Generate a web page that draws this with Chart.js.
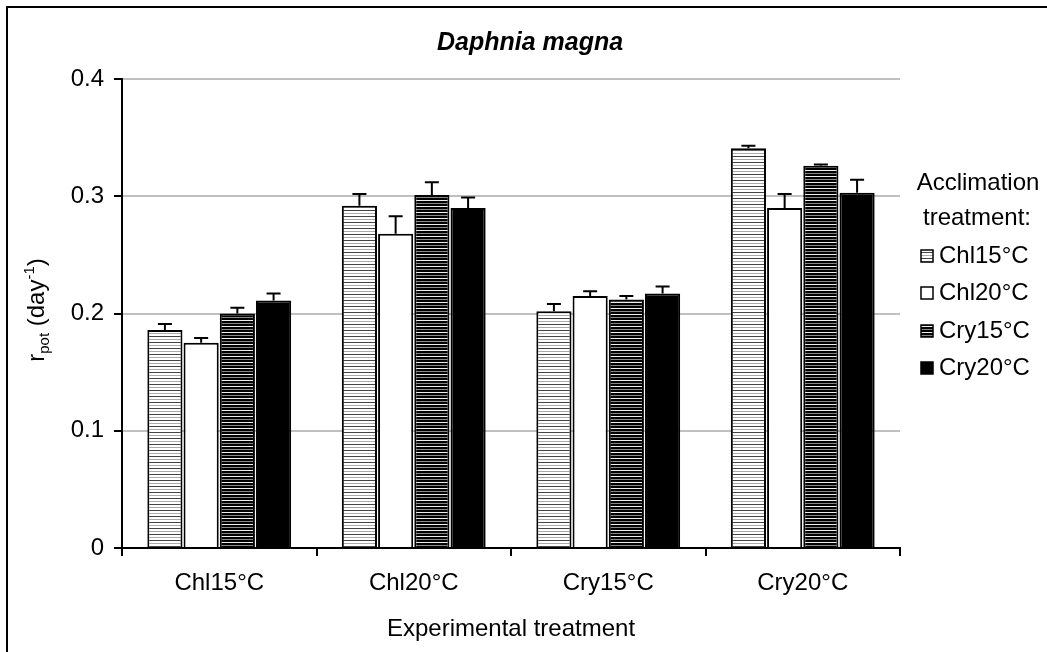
<!DOCTYPE html>
<html>
<head>
<meta charset="utf-8">
<script src="https://cdn.jsdelivr.net/npm/chart.js@4.4.0/dist/chart.umd.min.js"></script>
<style>
  html, body { margin: 0; padding: 0; background: #fff; }
</style>
</head>
<body>
<canvas id="myChart" width="1047" height="652"></canvas>
<script>
// data
var categories = ['Chl15°C', 'Chl20°C', 'Cry15°C', 'Cry20°C'];
var seriesNames = ['Chl15°C', 'Chl20°C', 'Cry15°C', 'Cry20°C'];
var chl15Values = [0.186, 0.292, 0.202, 0.341];
var chl15Errors = [0.005, 0.010, 0.006, 0.002];
var chl20Values = [0.175, 0.268, 0.215, 0.290];
var chl20Errors = [0.004, 0.015, 0.004, 0.012];
var cry15Values = [0.200, 0.301, 0.212, 0.326];
var cry15Errors = [0.005, 0.011, 0.003, 0.001];
var cry20Values = [0.211, 0.290, 0.217, 0.303];
var cry20Errors = [0.006, 0.009, 0.006, 0.011];
var yTicks = [0, 0.1, 0.2, 0.3, 0.4];

var FONT = '"Liberation Sans", Arial, sans-serif';
Chart.defaults.font.family = FONT;
Chart.defaults.color = '#000';

function stripes(bg, rows) {
  var c = document.createElement('canvas');
  c.width = 4;
  c.height = rows.length;
  var g = c.getContext('2d');
  g.fillStyle = bg;
  g.fillRect(0, 0, 4, rows.length);
  for (var i = 0; i < rows.length; i++) {
    if (rows[i]) {
      g.fillStyle = rows[i];
      g.fillRect(0, i, 4, 1);
    }
  }
  return g.createPattern(c, 'repeat');
}

var lightStripes = stripes('#fff', ['#444', null, null, '#aaa', null, null]);
var darkStripes = stripes('#000', [null, null, '#eee', null, null, '#888']);
var fills = [lightStripes, '#fff', darkStripes, '#000'];
var allValues = [chl15Values, chl20Values, cry15Values, cry20Values];
var allErrors = [chl15Errors, chl20Errors, cry15Errors, cry20Errors];

var datasets = [];
for (var s = 0; s < seriesNames.length; s++) {
  datasets.push({
    label: seriesNames[s],
    data: allValues[s],
    errors: allErrors[s],
    backgroundColor: fills[s],
    borderColor: '#000',
    borderWidth: 2,
    borderSkipped: 'bottom',
    categoryPercentage: 0.745,
    barPercentage: 0.97
  });
}

// error bars, border, title, y label, legend
var extras = {
  id: 'extras',
  afterDatasetsDraw: function (chart) {
    var ctx = chart.ctx;
    var y = chart.scales.y;
    ctx.save();
    ctx.strokeStyle = '#000';
    ctx.lineWidth = 2;
    chart.data.datasets.forEach(function (ds, di) {
      var meta = chart.getDatasetMeta(di);
      meta.data.forEach(function (bar, i) {
        var top = y.getPixelForValue(ds.data[i] + ds.errors[i]);
        var base = y.getPixelForValue(ds.data[i]);
        ctx.beginPath();
        ctx.moveTo(bar.x, base);
        ctx.lineTo(bar.x, top);
        ctx.moveTo(bar.x - 7, top);
        ctx.lineTo(bar.x + 7, top);
        ctx.stroke();
      });
    });
    ctx.restore();
  },
  afterDraw: function (chart) {
    var ctx = chart.ctx;
    ctx.save();

    // frame
    ctx.strokeStyle = '#000';
    ctx.lineWidth = 2;
    ctx.beginPath();
    ctx.moveTo(7, 652);
    ctx.lineTo(7, 7);
    ctx.lineTo(1047, 7);
    ctx.stroke();

    // title (centred on the whole chart box, as the original does)
    ctx.fillStyle = '#000';
    ctx.font = 'italic bold 25px ' + FONT;
    ctx.textAlign = 'center';
    ctx.textBaseline = 'middle';
    ctx.fillText('Daphnia magna', 530, 43);

    // y axis label r_pot (day^-1)
    ctx.translate(36, 310);
    ctx.rotate(-Math.PI / 2);
    var parts = [
      ['r', 24, 0], ['pot', 15, 5], [' (day', 24, 0], ['-1', 15, -10], [')', 24, 0]
    ];
    var total = 0;
    parts.forEach(function (p) {
      ctx.font = p[1] + 'px ' + FONT;
      total += ctx.measureText(p[0]).width;
    });
    var x = -total / 2;
    ctx.textAlign = 'left';
    ctx.textBaseline = 'alphabetic';
    parts.forEach(function (p) {
      ctx.font = p[1] + 'px ' + FONT;
      ctx.fillText(p[0], x, 8 + p[2]);
      x += ctx.measureText(p[0]).width;
    });
    ctx.setTransform(1, 0, 0, 1, 0, 0);

    // legend
    ctx.font = '24px ' + FONT;
    ctx.textAlign = 'center';
    ctx.textBaseline = 'middle';
    ctx.fillText('Acclimation', 978, 183);
    ctx.fillText('treatment:', 977, 218);
    ctx.textAlign = 'left';
    var rowY = [256, 293, 331, 368];
    chart.data.datasets.forEach(function (ds, i) {
      ctx.fillStyle = ds.backgroundColor;
      ctx.fillRect(921, rowY[i] - 6, 12, 12);
      ctx.lineWidth = 1.5;
      ctx.strokeStyle = '#000';
      ctx.strokeRect(921, rowY[i] - 6, 12, 12);
      ctx.fillStyle = '#000';
      ctx.fillText(ds.label, 939, rowY[i]);
    });
    ctx.restore();
  }
};

new Chart(document.getElementById('myChart'), {
  type: 'bar',
  data: { labels: categories, datasets: datasets },
  options: {
    responsive: false,
    animation: false,
    layout: { padding: { top: 79, right: 147, left: 0, bottom: 0 } },
    plugins: {
      legend: { display: false },
      tooltip: { enabled: false }
    },
    scales: {
      x: {
        afterFit: function (s) { s.height = 104; },
        grid: { drawOnChartArea: false, offset: true, tickLength: 8, tickColor: '#000', lineWidth: 2 },
        border: { color: '#000', width: 2 },
        ticks: { font: { size: 24 }, color: '#000', padding: 13 },
        title: { display: true, text: 'Experimental treatment', font: { size: 24 }, color: '#000', padding: { top: 0, bottom: 8 } }
      },
      y: {
        min: 0,
        max: 0.4,
        afterFit: function (s) { s.width = 122; },
        afterBuildTicks: function (s) { s.ticks = yTicks.map(function (v) { return { value: v }; }); },
        grid: { color: '#c0c0c0', lineWidth: 2, tickLength: 8, tickColor: '#000' },
        border: { color: '#000', width: 2 },
        ticks: {
          font: { size: 24 },
          color: '#000',
          padding: 10,
          callback: function (v) { return v === 0 ? '0' : v.toFixed(1); }
        }
      }
    }
  },
  plugins: [extras]
});
</script>
</body>
</html>
